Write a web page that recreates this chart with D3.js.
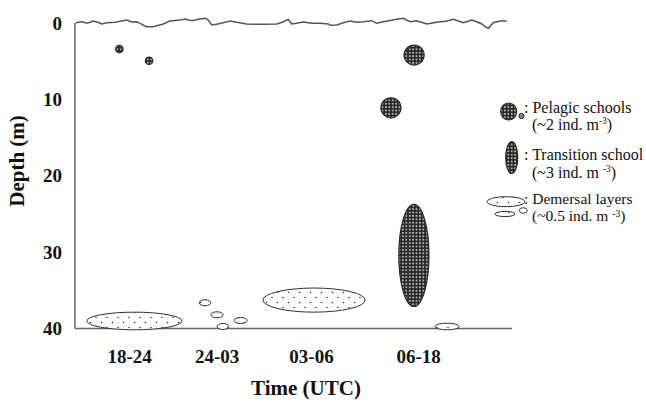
<!DOCTYPE html>
<html>
<head>
<meta charset="utf-8">
<script src="https://cdn.jsdelivr.net/npm/d3@7/dist/d3.min.js"></script>
<style>
  html, body { margin: 0; padding: 0; background: #fff; }
  svg { display: block; }
  text { font-family: "Liberation Serif", "Times New Roman", serif; fill: #111; }
</style>
</head>
<body>
<script>
// ---- Data ----
// x: time position along the survey (arbitrary units 0..10), y: depth (m)
const timeTickPositions = [1.24, 3.24, 5.40, 7.85];
const timeTickLabels = ["18-24", "24-03", "03-06", "06-18"];
const depthTicks = [0, 10, 20, 30, 40];

// school extents: [t0, t1, depthTop, depthBottom]
const pelagicSchools = [
  [0.93, 1.10, 2.92, 3.90],
  [1.61, 1.78, 4.46, 5.43],
  [7.53, 7.99, 2.89, 5.51],
  [7.00, 7.46, 9.80, 12.42]
];
const transitionSchools = [
  [7.41, 8.10, 23.74, 37.11]
];
const demersalLayers = [
  [0.27, 2.45, 37.86, 40.17],
  [2.84, 3.11, 36.24, 37.02],
  [3.11, 3.39, 37.81, 38.60],
  [3.25, 3.52, 39.34, 40.13],
  [3.64, 3.94, 38.56, 39.34],
  [4.30, 6.64, 34.70, 37.86],
  [8.24, 8.79, 39.30, 40.17]
];

// sea surface trace: [t, depth]
const surfaceT = [0.02,0.15,0.28,0.42,0.52,0.61,0.73,0.92,1.07,1.18,1.30,1.41,1.49,1.63,1.79,2.02,2.17,2.40,2.52,2.67,2.82,2.98,3.05,3.13,3.24,3.39,3.55,3.70,3.93,4.31,4.62,4.77,4.88,4.96,5.07,5.22,5.42,5.61,5.80,5.84,5.99,6.14,6.29,6.45,6.60,6.79,6.90,7.06,7.36,7.51,7.67,7.82,8.05,8.28,8.51,8.66,8.77,8.89,9.08,9.19,9.31,9.38,9.46,9.57,9.73,9.88];
const surfaceD = [-0.04,-0.17,0.04,-0.26,-0.09,0.13,-0.04,-0.09,-0.26,-0.39,-0.13,-0.17,0.04,0.48,0.48,0.13,-0.26,-0.39,-0.52,-0.30,-0.48,-0.61,-0.39,0.26,0.17,-0.04,-0.26,-0.09,0.13,0.17,0.13,-0.17,-0.48,0.13,0.04,-0.13,0.04,0.04,0.13,0.30,0.26,-0.04,-0.26,-0.09,-0.17,-0.30,0.04,-0.17,-0.48,-0.61,-0.17,-0.30,0.13,-0.09,-0.26,-0.48,-0.26,-0.04,-0.39,-0.17,0.13,0.48,0.69,-0.04,-0.26,-0.26];

// ---- Layout ----
const W = 646, H = 402;
const SERIF = "'Liberation Serif', 'Times New Roman', serif";
const svg = d3.select("body").append("svg").attr("width", W).attr("height", H);

const x = d3.scaleLinear().domain([0, 10]).range([75, 512]);
const y = d3.scaleLinear().domain([0, 40]).range([23, 328.5]);

// patterns
const defs = svg.append("defs");
const pMesh = defs.append("pattern").attr("id", "mesh")
  .attr("patternUnits", "userSpaceOnUse").attr("width", 3.4).attr("height", 3.4);
pMesh.append("rect").attr("width", 3.4).attr("height", 3.4).attr("fill", "#222");
pMesh.append("circle").attr("cx", 1.7).attr("cy", 1.7).attr("r", 1.05).attr("fill", "#b0b0b0");

const pDots = defs.append("pattern").attr("id", "dots")
  .attr("patternUnits", "userSpaceOnUse").attr("width", 11).attr("height", 10);
pDots.append("rect").attr("width", 11).attr("height", 10).attr("fill", "#fff");
pDots.append("circle").attr("cx", 2.5).attr("cy", 2.5).attr("r", 0.75).attr("fill", "#222");
pDots.append("circle").attr("cx", 8).attr("cy", 7.5).attr("r", 0.75).attr("fill", "#222");

// axes lines (no ticks)
svg.append("line").attr("x1", x(0)).attr("x2", x(0)).attr("y1", y(0)).attr("y2", y(40))
  .attr("stroke", "#666").attr("stroke-width", 1.5);
svg.append("line").attr("x1", x(0)).attr("x2", x(10)).attr("y1", y(40)).attr("y2", y(40))
  .attr("stroke", "#666").attr("stroke-width", 1.5);

// y tick labels
const yAxis = d3.axisLeft(y).tickValues(depthTicks).tickSize(0).tickPadding(13).tickFormat(d3.format("d"));
const gy = svg.append("g").attr("transform", `translate(${x(0)},0)`).call(yAxis);
gy.select(".domain").remove();
gy.selectAll("text").style("font-family", SERIF).style("font-weight", "bold")
  .style("font-size", "19px").attr("fill", "#111");

// x tick labels
const xAxis = d3.axisBottom(x).tickValues(timeTickPositions).tickSize(0).tickPadding(21)
  .tickFormat((d, i) => timeTickLabels[i]);
const gx = svg.append("g").attr("transform", `translate(0,${y(40)})`).call(xAxis);
gx.select(".domain").remove();
gx.selectAll("text").style("font-family", SERIF).style("font-weight", "bold")
  .style("font-size", "19px").attr("fill", "#111");

// surface line
const surface = surfaceT.map((t, i) => [t, surfaceD[i]]);
svg.append("path").datum(surface)
  .attr("d", d3.line().x(d => x(d[0])).y(d => y(d[1])))
  .attr("fill", "none").attr("stroke", "#555").attr("stroke-width", 1.5);

function drawSchools(data, fill, stroke, sw) {
  svg.append("g").selectAll("ellipse").data(data).join("ellipse")
    .attr("cx", d => (x(d[0]) + x(d[1])) / 2)
    .attr("cy", d => (y(d[2]) + y(d[3])) / 2)
    .attr("rx", d => (x(d[1]) - x(d[0])) / 2)
    .attr("ry", d => (y(d[3]) - y(d[2])) / 2)
    .attr("fill", fill).attr("stroke", stroke).attr("stroke-width", sw);
}
drawSchools(demersalLayers, "url(#dots)", "#333", 1);
drawSchools(pelagicSchools, "url(#mesh)", "#2a2a2a", 1.2);
drawSchools(transitionSchools, "url(#mesh)", "#2a2a2a", 1.2);

// axis titles
svg.append("text").attr("transform", "translate(24,161) rotate(-90)")
  .attr("text-anchor", "middle").style("font-family", SERIF).style("font-weight", "bold").style("font-size", "21px")
  .text("Depth (m)");
svg.append("text").attr("x", 306).attr("y", 395)
  .attr("text-anchor", "middle").style("font-family", SERIF).style("font-weight", "bold").style("font-size", "21px")
  .text("Time (UTC)");

// legend
const lg = svg.append("g");
lg.append("ellipse").attr("cx", 508.7).attr("cy", 111.5).attr("rx", 8).attr("ry", 8.5)
  .attr("fill", "url(#mesh)").attr("stroke", "#2a2a2a").attr("stroke-width", 1.2);
lg.append("circle").attr("cx", 521.5).attr("cy", 116).attr("r", 2.6)
  .attr("fill", "#888").attr("stroke", "#222").attr("stroke-width", 1);
lg.append("ellipse").attr("cx", 511.7).attr("cy", 157.5).attr("rx", 6).attr("ry", 16)
  .attr("fill", "url(#mesh)").attr("stroke", "#2a2a2a").attr("stroke-width", 1.2);
lg.append("ellipse").attr("cx", 506).attr("cy", 201.7).attr("rx", 19).attr("ry", 5)
  .attr("fill", "url(#dots)").attr("stroke", "#333").attr("stroke-width", 1);
lg.append("ellipse").attr("cx", 505).attr("cy", 214).attr("rx", 10).attr("ry", 2.6)
  .attr("fill", "url(#dots)").attr("stroke", "#333").attr("stroke-width", 1);
lg.append("ellipse").attr("cx", 523.3).attr("cy", 210.5).attr("rx", 4).attr("ry", 2.8)
  .attr("fill", "#fff").attr("stroke", "#333").attr("stroke-width", 1);

const legendItems = [
  { y1: 113, y2: 130, fs: 16, sup: -6, name: ": Pelagic schools", dens: "(~2 ind. m" },
  { y1: 160, y2: 178, fs: 16, sup: -6, name: ": Transition school", dens: "(~3 ind. m " },
  { y1: 204, y2: 221, fs: 15.5, sup: -4.5, name: ": Demersal layers", dens: "(~0.5 ind. m " }
];
legendItems.forEach(it => {
  lg.append("text").attr("x", 524).attr("y", it.y1)
    .style("font-family", SERIF).style("font-size", it.fs + "px").text(it.name);
  const t = lg.append("text").attr("x", 532).attr("y", it.y2)
    .style("font-family", SERIF).style("font-size", it.fs + "px");
  t.append("tspan").text(it.dens);
  t.append("tspan").attr("dy", it.sup).style("font-size", "9.5px").text("-3");
  t.append("tspan").attr("dy", -it.sup).text(")");
});
</script>
</body>
</html>
